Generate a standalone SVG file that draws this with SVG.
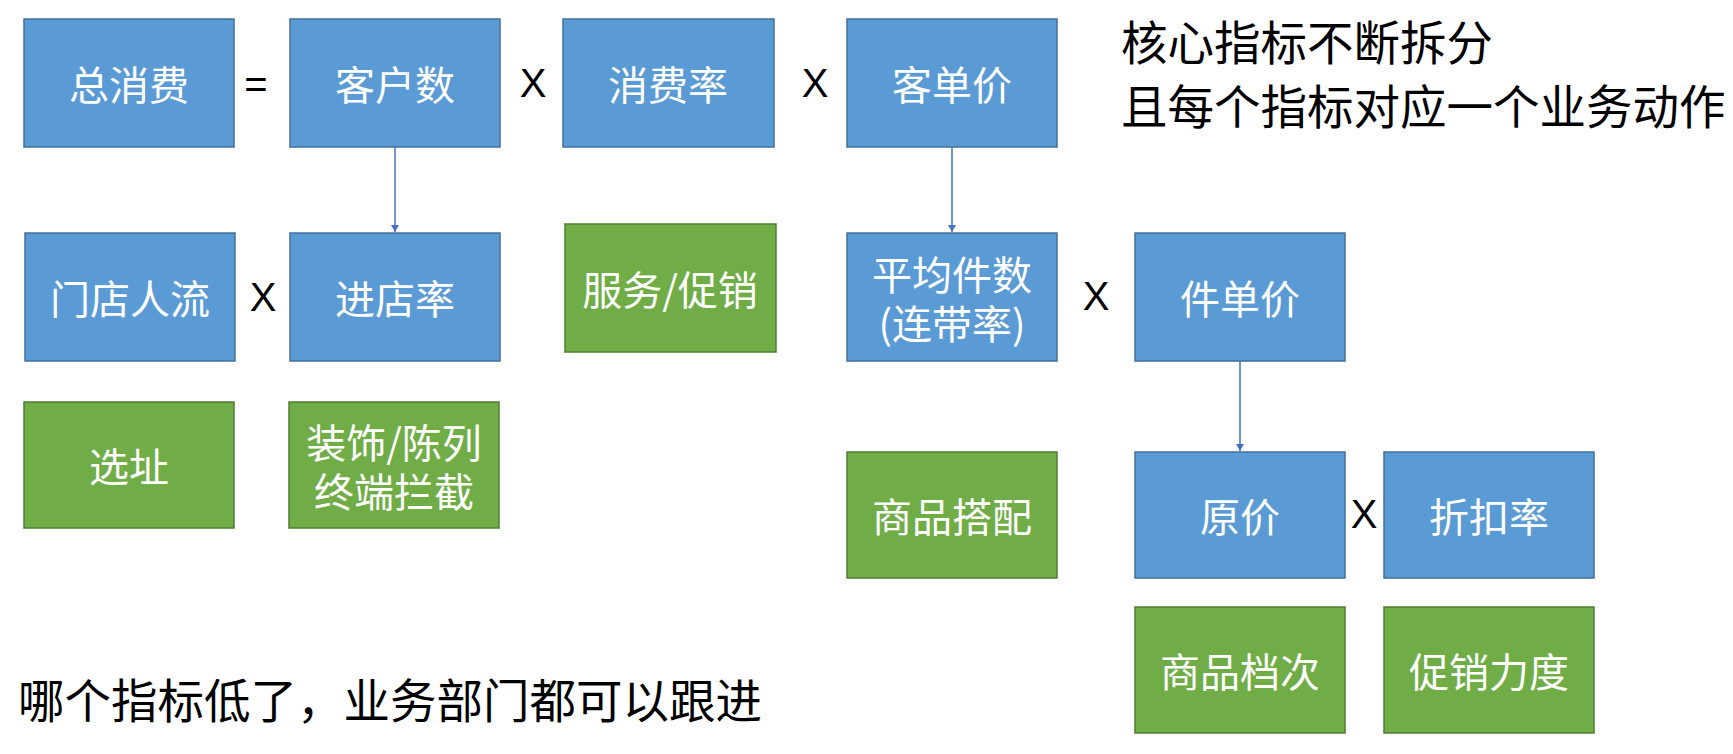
<svg xmlns="http://www.w3.org/2000/svg" width="1733" height="754" viewBox="0 0 1733 754">
<style>
.b{fill:#5B9BD5;stroke:#41719C;stroke-width:1.5}
.g{fill:#70AD47;stroke:#507E32;stroke-width:1.5}
.t{font-family:"Noto Sans CJK SC","Noto Sans",sans-serif;font-size:40px;fill:#FFFFFF;text-anchor:middle;dominant-baseline:central}
.op{font-family:"Liberation Sans","Noto Sans",sans-serif;font-size:40px;fill:#000000;text-anchor:middle;dominant-baseline:central}
.k{font-family:"Noto Sans CJK SC","Noto Sans",sans-serif;font-size:46.5px;fill:#000000}
.c{stroke:#4472C4;stroke-width:1.5;fill:none}
</style>
<defs>
<marker id="ah" viewBox="0 0 10 10" refX="10" refY="5" markerWidth="7" markerHeight="8" markerUnits="userSpaceOnUse" orient="auto" preserveAspectRatio="none">
<path d="M0,0 L10,5 L0,10 Z" fill="#4472C4"/>
</marker>
</defs>
<rect width="1733" height="754" fill="#FFFFFF"/>
<g id="connectors">
<line class="c" x1="395" y1="147" x2="395" y2="232" marker-end="url(#ah)"/>
<line class="c" x1="952" y1="147" x2="952" y2="232" marker-end="url(#ah)"/>
<line class="c" x1="1240" y1="361" x2="1240" y2="451" marker-end="url(#ah)"/>
</g>
<g id="n_total"><rect class="b" x="24" y="19" width="210" height="128"/><text class="t" x="129" y="83">总消费</text></g>
<g id="n_customers"><rect class="b" x="290" y="19" width="210" height="128"/><text class="t" x="395" y="83">客户数</text></g>
<g id="n_rate"><rect class="b" x="563" y="19" width="211" height="128"/><text class="t" x="668" y="83">消费率</text></g>
<g id="n_unitprice"><rect class="b" x="847" y="19" width="210" height="128"/><text class="t" x="952" y="83">客单价</text></g>
<g id="n_traffic"><rect class="b" x="25" y="233" width="210" height="128"/><text class="t" x="130" y="297">门店人流</text></g>
<g id="n_entry"><rect class="b" x="290" y="233" width="210" height="128"/><text class="t" x="395" y="297">进店率</text></g>
<g id="n_service"><rect class="g" x="565" y="224" width="211" height="128"/><text class="t" x="670" y="288">服务/促销</text></g>
<g id="n_avgcount"><rect class="b" x="847" y="233" width="210" height="128"/><text class="t"><tspan x="952" y="273">平均件数</tspan><tspan x="952" y="322">(连带率)</tspan></text></g>
<g id="n_itemprice"><rect class="b" x="1135" y="233" width="210" height="128"/><text class="t" x="1240" y="297">件单价</text></g>
<g id="n_site"><rect class="g" x="24" y="402" width="210" height="126"/><text class="t" x="129" y="465">选址</text></g>
<g id="n_decor"><rect class="g" x="289" y="402" width="210" height="126"/><text class="t"><tspan x="394" y="441">装饰/陈列</tspan><tspan x="394" y="490">终端拦截</tspan></text></g>
<g id="n_match"><rect class="g" x="847" y="452" width="210" height="126"/><text class="t" x="952" y="515">商品搭配</text></g>
<g id="n_orig"><rect class="b" x="1135" y="452" width="210" height="126"/><text class="t" x="1240" y="515">原价</text></g>
<g id="n_discount"><rect class="b" x="1384" y="452" width="210" height="126"/><text class="t" x="1489" y="515">折扣率</text></g>
<g id="n_grade"><rect class="g" x="1135" y="607" width="210" height="126"/><text class="t" x="1240" y="670">商品档次</text></g>
<g id="n_promo"><rect class="g" x="1384" y="607" width="210" height="126"/><text class="t" x="1489" y="670">促销力度</text></g>
<g id="operators">
<text class="op" x="256" y="84">=</text>
<text class="op" x="533" y="83">X</text>
<text class="op" x="815" y="83">X</text>
<text class="op" x="263" y="297">X</text>
<text class="op" x="1096" y="296">X</text>
<text class="op" x="1364" y="514">X</text>
</g>
<g id="notes">
<text class="k" x="1121" y="60">核心指标不断拆分</text>
<text class="k" x="1121" y="124">且每个指标对应一个业务动作</text>
<text class="k" x="18" y="718">哪个指标低了，业务部门都可以跟进</text>
</g>
</svg>
